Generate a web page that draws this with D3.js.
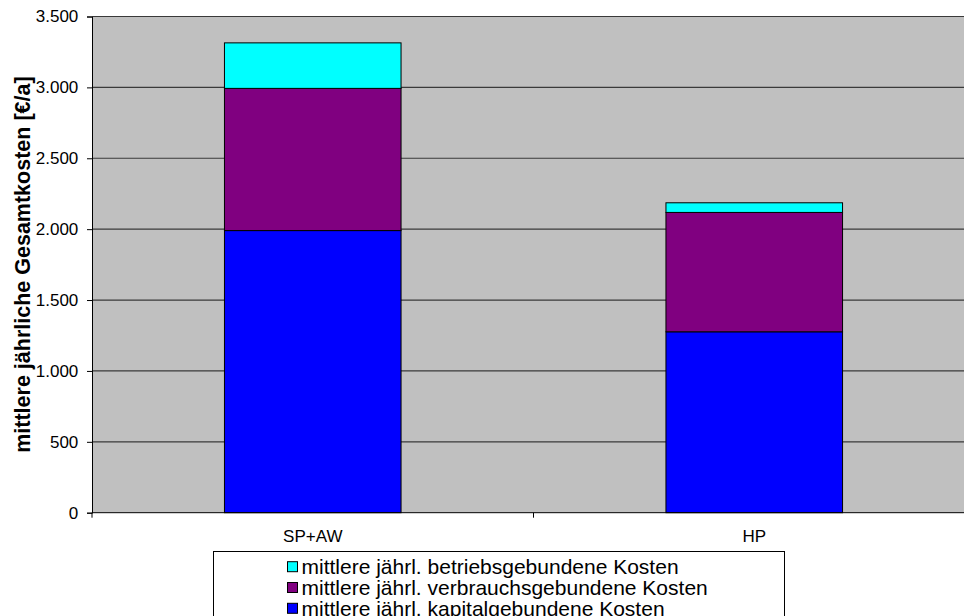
<!DOCTYPE html>
<html>
<head>
<meta charset="utf-8">
<script src="https://cdn.jsdelivr.net/npm/d3@7"></script>
<style>
  html, body { margin: 0; padding: 0; background: #fff; }
  svg { display: block; font-family: Arial, "Liberation Sans", sans-serif; }
</style>
</head>
<body>
<svg id="chart" width="964" height="616"></svg>
<script>
// Mean annual total costs per system variant, stacked by cost type
const categories = ["SP+AW", "HP"];
const seriesNames = [
  "mittlere jährl. kapitalgebundene Kosten",
  "mittlere jährl. verbrauchsgebundene Kosten",
  "mittlere jährl. betriebsgebundene Kosten"
];
const kapital = [1990, 1276];
const verbrauch = [1003, 842];
const betrieb = [321, 68];
const seriesColors = ["#0000FF", "#800080", "#00FFFF"];
const yTicks = [0, 500, 1000, 1500, 2000, 2500, 3000, 3500];
const yTitle = "mittlere jährliche Gesamtkosten [€/a]";

const svg = d3.select("#chart");
const plot = { left: 92, top: 16.5, right: 975, bottom: 512.7 };

const x = d3.scaleBand().domain(categories).range([plot.left, plot.right]).padding(0);
const y = d3.scaleLinear().domain([0, 3500]).range([plot.bottom, plot.top]);
const fmt = v => d3.format(",")(v).replace(/,/g, ".");

// plot area
svg.append("rect")
  .attr("x", plot.left).attr("y", plot.top)
  .attr("width", plot.right - plot.left).attr("height", plot.bottom - plot.top)
  .attr("fill", "#C0C0C0");

// horizontal gridlines
svg.append("g").selectAll("line").data(yTicks.filter(d => d > 0)).join("line")
  .attr("x1", plot.left).attr("x2", plot.right)
  .attr("y1", d => y(d)).attr("y2", d => y(d))
  .attr("stroke", "#3a3a3a").attr("stroke-width", 1.2);

// stacked bars
const rows = categories.map((c, i) => ({ cat: c, kapital: kapital[i], verbrauch: verbrauch[i], betrieb: betrieb[i] }));
const stack = d3.stack().keys(["kapital", "verbrauch", "betrieb"])(rows);
const barW = x.bandwidth() * 0.4;
svg.append("g").selectAll("g").data(stack).join("g")
  .attr("fill", (d, i) => seriesColors[i])
  .selectAll("rect").data(d => d).join("rect")
  .attr("x", d => x(d.data.cat) + (x.bandwidth() - barW) / 2)
  .attr("width", barW)
  .attr("y", d => y(d[1]))
  .attr("height", d => y(d[0]) - y(d[1]))
  .attr("stroke", "#000").attr("stroke-width", 1);

// y axis
const yAxis = svg.append("g").attr("transform", `translate(${plot.left},0)`)
  .call(d3.axisLeft(y).tickValues(yTicks).tickFormat(fmt).tickSize(5).tickPadding(8.7));
yAxis.select(".domain").attr("stroke", "#000");
yAxis.selectAll(".tick line").attr("stroke", "#000");
yAxis.selectAll("text").attr("font-size", 17).attr("fill", "#000")
  .attr("font-family", "Arial, 'Liberation Sans', sans-serif");

// x axis: ticks at category boundaries
const xAxisG = svg.append("g").attr("transform", `translate(0,${plot.bottom})`);
xAxisG.append("line").attr("x1", plot.left).attr("x2", plot.right)
  .attr("stroke", "#000").attr("stroke-width", 1);
const bounds = [plot.left, ...categories.slice(1).map(c => x(c)), plot.right];
xAxisG.selectAll("line.tk").data(bounds).join("line").attr("class", "tk")
  .attr("x1", d => d).attr("x2", d => d).attr("y1", 0).attr("y2", 5)
  .attr("stroke", "#000");
xAxisG.selectAll("text").data(categories).join("text")
  .attr("x", d => x(d) + x.bandwidth() / 2).attr("y", 29)
  .attr("text-anchor", "middle").attr("font-size", 17).attr("fill", "#000")
  .text(d => d);

// y axis title
svg.append("text")
  .attr("transform", `translate(29.5,${(plot.top + plot.bottom) / 2}) rotate(-90)`)
  .attr("text-anchor", "middle")
  .attr("font-size", 21.5).attr("font-weight", "bold")
  .text(yTitle);

// legend
const legend = svg.append("g");
legend.append("rect").attr("x", 213.5).attr("y", 551.5).attr("width", 571).attr("height", 80)
  .attr("fill", "#fff").attr("stroke", "#000");
const legendOrder = [2, 1, 0];
const li = legend.selectAll("g.item").data(legendOrder).join("g").attr("class", "item")
  .attr("transform", (d, i) => `translate(287.5,${566.7 + i * 20.8})`);
li.append("rect").attr("x", 0).attr("y", -5).attr("width", 10).attr("height", 10)
  .attr("fill", d => seriesColors[d]).attr("stroke", "#000");
li.append("text").attr("x", 14).attr("y", 0).attr("dominant-baseline", "central")
  .attr("font-size", 21).text(d => seriesNames[d]);
</script>
</body>
</html>
